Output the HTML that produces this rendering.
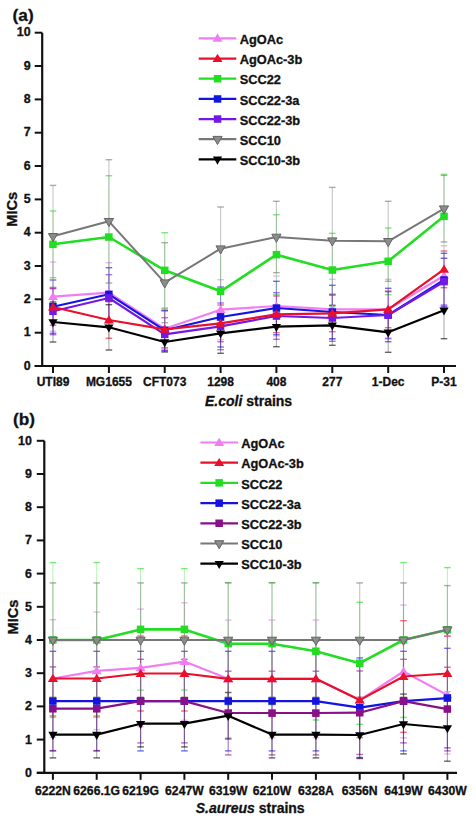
<!DOCTYPE html>
<html><head><meta charset="utf-8"><style>
html,body{margin:0;padding:0;background:#fff;}
body{width:476px;height:822px;overflow:hidden;}
svg{display:block;font-family:"Liberation Sans", sans-serif;}
text{stroke:#111;stroke-width:0.3px;}
</style></head><body>
<svg width="476" height="822" viewBox="0 0 476 822" fill="#111">
<line x1="53.0" y1="262.0" x2="53.0" y2="331.3" stroke="#f07ef2" stroke-opacity="0.32" stroke-width="1.1"/>
<g stroke="#f07ef2" stroke-opacity="0.6" stroke-width="1.4" fill="none"><line x1="49.7" y1="262.0" x2="56.3" y2="262.0"/><line x1="49.7" y1="331.3" x2="56.3" y2="331.3"/></g>
<line x1="108.9" y1="262.7" x2="108.9" y2="322.7" stroke="#f07ef2" stroke-opacity="0.32" stroke-width="1.1"/>
<g stroke="#f07ef2" stroke-opacity="0.6" stroke-width="1.4" fill="none"><line x1="105.6" y1="262.7" x2="112.2" y2="262.7"/><line x1="105.6" y1="322.7" x2="112.2" y2="322.7"/></g>
<line x1="164.7" y1="308.7" x2="164.7" y2="348.7" stroke="#f07ef2" stroke-opacity="0.32" stroke-width="1.1"/>
<g stroke="#f07ef2" stroke-opacity="0.6" stroke-width="1.4" fill="none"><line x1="161.4" y1="308.7" x2="168.0" y2="308.7"/><line x1="161.4" y1="348.7" x2="168.0" y2="348.7"/></g>
<line x1="220.6" y1="279.7" x2="220.6" y2="339.7" stroke="#f07ef2" stroke-opacity="0.32" stroke-width="1.1"/>
<g stroke="#f07ef2" stroke-opacity="0.6" stroke-width="1.4" fill="none"><line x1="217.3" y1="279.7" x2="223.9" y2="279.7"/><line x1="217.3" y1="339.7" x2="223.9" y2="339.7"/></g>
<line x1="276.4" y1="276.0" x2="276.4" y2="336.0" stroke="#f07ef2" stroke-opacity="0.32" stroke-width="1.1"/>
<g stroke="#f07ef2" stroke-opacity="0.6" stroke-width="1.4" fill="none"><line x1="273.1" y1="276.0" x2="279.7" y2="276.0"/><line x1="273.1" y1="336.0" x2="279.7" y2="336.0"/></g>
<line x1="332.3" y1="279.3" x2="332.3" y2="339.3" stroke="#f07ef2" stroke-opacity="0.32" stroke-width="1.1"/>
<g stroke="#f07ef2" stroke-opacity="0.6" stroke-width="1.4" fill="none"><line x1="329.0" y1="279.3" x2="335.6" y2="279.3"/><line x1="329.0" y1="339.3" x2="335.6" y2="339.3"/></g>
<line x1="388.2" y1="279.3" x2="388.2" y2="339.3" stroke="#f07ef2" stroke-opacity="0.32" stroke-width="1.1"/>
<g stroke="#f07ef2" stroke-opacity="0.6" stroke-width="1.4" fill="none"><line x1="384.9" y1="279.3" x2="391.5" y2="279.3"/><line x1="384.9" y1="339.3" x2="391.5" y2="339.3"/></g>
<line x1="444.0" y1="245.7" x2="444.0" y2="305.7" stroke="#f07ef2" stroke-opacity="0.32" stroke-width="1.1"/>
<g stroke="#f07ef2" stroke-opacity="0.6" stroke-width="1.4" fill="none"><line x1="440.7" y1="245.7" x2="447.3" y2="245.7"/><line x1="440.7" y1="305.7" x2="447.3" y2="305.7"/></g>
<line x1="53.0" y1="288.7" x2="53.0" y2="325.3" stroke="#e8102a" stroke-opacity="0.32" stroke-width="1.1"/>
<g stroke="#e8102a" stroke-opacity="0.6" stroke-width="1.4" fill="none"><line x1="49.7" y1="288.7" x2="56.3" y2="288.7"/><line x1="49.7" y1="325.3" x2="56.3" y2="325.3"/></g>
<line x1="108.9" y1="301.7" x2="108.9" y2="338.3" stroke="#e8102a" stroke-opacity="0.32" stroke-width="1.1"/>
<g stroke="#e8102a" stroke-opacity="0.6" stroke-width="1.4" fill="none"><line x1="105.6" y1="301.7" x2="112.2" y2="301.7"/><line x1="105.6" y1="338.3" x2="112.2" y2="338.3"/></g>
<line x1="164.7" y1="311.0" x2="164.7" y2="347.7" stroke="#e8102a" stroke-opacity="0.32" stroke-width="1.1"/>
<g stroke="#e8102a" stroke-opacity="0.6" stroke-width="1.4" fill="none"><line x1="161.4" y1="311.0" x2="168.0" y2="311.0"/><line x1="161.4" y1="347.7" x2="168.0" y2="347.7"/></g>
<line x1="220.6" y1="305.0" x2="220.6" y2="341.7" stroke="#e8102a" stroke-opacity="0.32" stroke-width="1.1"/>
<g stroke="#e8102a" stroke-opacity="0.6" stroke-width="1.4" fill="none"><line x1="217.3" y1="305.0" x2="223.9" y2="305.0"/><line x1="217.3" y1="341.7" x2="223.9" y2="341.7"/></g>
<line x1="276.4" y1="296.0" x2="276.4" y2="332.7" stroke="#e8102a" stroke-opacity="0.32" stroke-width="1.1"/>
<g stroke="#e8102a" stroke-opacity="0.6" stroke-width="1.4" fill="none"><line x1="273.1" y1="296.0" x2="279.7" y2="296.0"/><line x1="273.1" y1="332.7" x2="279.7" y2="332.7"/></g>
<line x1="332.3" y1="295.0" x2="332.3" y2="331.7" stroke="#e8102a" stroke-opacity="0.32" stroke-width="1.1"/>
<g stroke="#e8102a" stroke-opacity="0.6" stroke-width="1.4" fill="none"><line x1="329.0" y1="295.0" x2="335.6" y2="295.0"/><line x1="329.0" y1="331.7" x2="335.6" y2="331.7"/></g>
<line x1="388.2" y1="291.0" x2="388.2" y2="327.7" stroke="#e8102a" stroke-opacity="0.32" stroke-width="1.1"/>
<g stroke="#e8102a" stroke-opacity="0.6" stroke-width="1.4" fill="none"><line x1="384.9" y1="291.0" x2="391.5" y2="291.0"/><line x1="384.9" y1="327.7" x2="391.5" y2="327.7"/></g>
<line x1="444.0" y1="251.0" x2="444.0" y2="287.7" stroke="#e8102a" stroke-opacity="0.32" stroke-width="1.1"/>
<g stroke="#e8102a" stroke-opacity="0.6" stroke-width="1.4" fill="none"><line x1="440.7" y1="251.0" x2="447.3" y2="251.0"/><line x1="440.7" y1="287.7" x2="447.3" y2="287.7"/></g>
<line x1="53.0" y1="211.0" x2="53.0" y2="277.7" stroke="#22dd22" stroke-opacity="0.32" stroke-width="1.1"/>
<g stroke="#22dd22" stroke-opacity="0.6" stroke-width="1.4" fill="none"><line x1="49.7" y1="211.0" x2="56.3" y2="211.0"/><line x1="49.7" y1="277.7" x2="56.3" y2="277.7"/></g>
<line x1="108.9" y1="175.7" x2="108.9" y2="298.3" stroke="#22dd22" stroke-opacity="0.32" stroke-width="1.1"/>
<g stroke="#22dd22" stroke-opacity="0.6" stroke-width="1.4" fill="none"><line x1="105.6" y1="175.7" x2="112.2" y2="175.7"/><line x1="105.6" y1="298.3" x2="112.2" y2="298.3"/></g>
<line x1="164.7" y1="232.7" x2="164.7" y2="308.0" stroke="#22dd22" stroke-opacity="0.32" stroke-width="1.1"/>
<g stroke="#22dd22" stroke-opacity="0.6" stroke-width="1.4" fill="none"><line x1="161.4" y1="232.7" x2="168.0" y2="232.7"/><line x1="161.4" y1="308.0" x2="168.0" y2="308.0"/></g>
<line x1="220.6" y1="249.0" x2="220.6" y2="333.7" stroke="#22dd22" stroke-opacity="0.32" stroke-width="1.1"/>
<g stroke="#22dd22" stroke-opacity="0.6" stroke-width="1.4" fill="none"><line x1="217.3" y1="249.0" x2="223.9" y2="249.0"/><line x1="217.3" y1="333.7" x2="223.9" y2="333.7"/></g>
<line x1="276.4" y1="214.7" x2="276.4" y2="294.7" stroke="#22dd22" stroke-opacity="0.32" stroke-width="1.1"/>
<g stroke="#22dd22" stroke-opacity="0.6" stroke-width="1.4" fill="none"><line x1="273.1" y1="214.7" x2="279.7" y2="214.7"/><line x1="273.1" y1="294.7" x2="279.7" y2="294.7"/></g>
<line x1="332.3" y1="233.3" x2="332.3" y2="306.7" stroke="#22dd22" stroke-opacity="0.32" stroke-width="1.1"/>
<g stroke="#22dd22" stroke-opacity="0.6" stroke-width="1.4" fill="none"><line x1="329.0" y1="233.3" x2="335.6" y2="233.3"/><line x1="329.0" y1="306.7" x2="335.6" y2="306.7"/></g>
<line x1="388.2" y1="228.0" x2="388.2" y2="294.7" stroke="#22dd22" stroke-opacity="0.32" stroke-width="1.1"/>
<g stroke="#22dd22" stroke-opacity="0.6" stroke-width="1.4" fill="none"><line x1="384.9" y1="228.0" x2="391.5" y2="228.0"/><line x1="384.9" y1="294.7" x2="391.5" y2="294.7"/></g>
<line x1="444.0" y1="174.4" x2="444.0" y2="258.3" stroke="#22dd22" stroke-opacity="0.32" stroke-width="1.1"/>
<g stroke="#22dd22" stroke-opacity="0.6" stroke-width="1.4" fill="none"><line x1="440.7" y1="174.4" x2="447.3" y2="174.4"/><line x1="440.7" y1="258.3" x2="447.3" y2="258.3"/></g>
<line x1="53.0" y1="280.0" x2="53.0" y2="333.3" stroke="#1414e0" stroke-opacity="0.32" stroke-width="1.1"/>
<g stroke="#1414e0" stroke-opacity="0.6" stroke-width="1.4" fill="none"><line x1="49.7" y1="280.0" x2="56.3" y2="280.0"/><line x1="49.7" y1="333.3" x2="56.3" y2="333.3"/></g>
<line x1="108.9" y1="267.7" x2="108.9" y2="321.0" stroke="#1414e0" stroke-opacity="0.32" stroke-width="1.1"/>
<g stroke="#1414e0" stroke-opacity="0.6" stroke-width="1.4" fill="none"><line x1="105.6" y1="267.7" x2="112.2" y2="267.7"/><line x1="105.6" y1="321.0" x2="112.2" y2="321.0"/></g>
<line x1="164.7" y1="310.3" x2="164.7" y2="350.3" stroke="#1414e0" stroke-opacity="0.32" stroke-width="1.1"/>
<g stroke="#1414e0" stroke-opacity="0.6" stroke-width="1.4" fill="none"><line x1="161.4" y1="310.3" x2="168.0" y2="310.3"/><line x1="161.4" y1="350.3" x2="168.0" y2="350.3"/></g>
<line x1="220.6" y1="287.0" x2="220.6" y2="347.0" stroke="#1414e0" stroke-opacity="0.32" stroke-width="1.1"/>
<g stroke="#1414e0" stroke-opacity="0.6" stroke-width="1.4" fill="none"><line x1="217.3" y1="287.0" x2="223.9" y2="287.0"/><line x1="217.3" y1="347.0" x2="223.9" y2="347.0"/></g>
<line x1="276.4" y1="281.3" x2="276.4" y2="334.7" stroke="#1414e0" stroke-opacity="0.32" stroke-width="1.1"/>
<g stroke="#1414e0" stroke-opacity="0.6" stroke-width="1.4" fill="none"><line x1="273.1" y1="281.3" x2="279.7" y2="281.3"/><line x1="273.1" y1="334.7" x2="279.7" y2="334.7"/></g>
<line x1="332.3" y1="285.3" x2="332.3" y2="338.7" stroke="#1414e0" stroke-opacity="0.32" stroke-width="1.1"/>
<g stroke="#1414e0" stroke-opacity="0.6" stroke-width="1.4" fill="none"><line x1="329.0" y1="285.3" x2="335.6" y2="285.3"/><line x1="329.0" y1="338.7" x2="335.6" y2="338.7"/></g>
<line x1="388.2" y1="288.3" x2="388.2" y2="341.7" stroke="#1414e0" stroke-opacity="0.32" stroke-width="1.1"/>
<g stroke="#1414e0" stroke-opacity="0.6" stroke-width="1.4" fill="none"><line x1="384.9" y1="288.3" x2="391.5" y2="288.3"/><line x1="384.9" y1="341.7" x2="391.5" y2="341.7"/></g>
<line x1="444.0" y1="253.3" x2="444.0" y2="306.7" stroke="#1414e0" stroke-opacity="0.32" stroke-width="1.1"/>
<g stroke="#1414e0" stroke-opacity="0.6" stroke-width="1.4" fill="none"><line x1="440.7" y1="253.3" x2="447.3" y2="253.3"/><line x1="440.7" y1="306.7" x2="447.3" y2="306.7"/></g>
<line x1="53.0" y1="288.0" x2="53.0" y2="334.7" stroke="#7418e8" stroke-opacity="0.32" stroke-width="1.1"/>
<g stroke="#7418e8" stroke-opacity="0.6" stroke-width="1.4" fill="none"><line x1="49.7" y1="288.0" x2="56.3" y2="288.0"/><line x1="49.7" y1="334.7" x2="56.3" y2="334.7"/></g>
<line x1="108.9" y1="274.7" x2="108.9" y2="321.3" stroke="#7418e8" stroke-opacity="0.32" stroke-width="1.1"/>
<g stroke="#7418e8" stroke-opacity="0.6" stroke-width="1.4" fill="none"><line x1="105.6" y1="274.7" x2="112.2" y2="274.7"/><line x1="105.6" y1="321.3" x2="112.2" y2="321.3"/></g>
<line x1="164.7" y1="317.7" x2="164.7" y2="351.0" stroke="#7418e8" stroke-opacity="0.32" stroke-width="1.1"/>
<g stroke="#7418e8" stroke-opacity="0.6" stroke-width="1.4" fill="none"><line x1="161.4" y1="317.7" x2="168.0" y2="317.7"/><line x1="161.4" y1="351.0" x2="168.0" y2="351.0"/></g>
<line x1="220.6" y1="303.0" x2="220.6" y2="349.7" stroke="#7418e8" stroke-opacity="0.32" stroke-width="1.1"/>
<g stroke="#7418e8" stroke-opacity="0.6" stroke-width="1.4" fill="none"><line x1="217.3" y1="303.0" x2="223.9" y2="303.0"/><line x1="217.3" y1="349.7" x2="223.9" y2="349.7"/></g>
<line x1="276.4" y1="292.7" x2="276.4" y2="339.3" stroke="#7418e8" stroke-opacity="0.32" stroke-width="1.1"/>
<g stroke="#7418e8" stroke-opacity="0.6" stroke-width="1.4" fill="none"><line x1="273.1" y1="292.7" x2="279.7" y2="292.7"/><line x1="273.1" y1="339.3" x2="279.7" y2="339.3"/></g>
<line x1="332.3" y1="294.7" x2="332.3" y2="341.3" stroke="#7418e8" stroke-opacity="0.32" stroke-width="1.1"/>
<g stroke="#7418e8" stroke-opacity="0.6" stroke-width="1.4" fill="none"><line x1="329.0" y1="294.7" x2="335.6" y2="294.7"/><line x1="329.0" y1="341.3" x2="335.6" y2="341.3"/></g>
<line x1="388.2" y1="291.7" x2="388.2" y2="338.3" stroke="#7418e8" stroke-opacity="0.32" stroke-width="1.1"/>
<g stroke="#7418e8" stroke-opacity="0.6" stroke-width="1.4" fill="none"><line x1="384.9" y1="291.7" x2="391.5" y2="291.7"/><line x1="384.9" y1="338.3" x2="391.5" y2="338.3"/></g>
<line x1="444.0" y1="258.3" x2="444.0" y2="305.0" stroke="#7418e8" stroke-opacity="0.32" stroke-width="1.1"/>
<g stroke="#7418e8" stroke-opacity="0.6" stroke-width="1.4" fill="none"><line x1="440.7" y1="258.3" x2="447.3" y2="258.3"/><line x1="440.7" y1="305.0" x2="447.3" y2="305.0"/></g>
<line x1="53.0" y1="302.0" x2="53.0" y2="342.0" stroke="#000000" stroke-opacity="0.32" stroke-width="1.1"/>
<g stroke="#000000" stroke-opacity="0.6" stroke-width="1.4" fill="none"><line x1="49.7" y1="302.0" x2="56.3" y2="302.0"/><line x1="49.7" y1="342.0" x2="56.3" y2="342.0"/></g>
<line x1="108.9" y1="304.7" x2="108.9" y2="350.0" stroke="#000000" stroke-opacity="0.32" stroke-width="1.1"/>
<g stroke="#000000" stroke-opacity="0.6" stroke-width="1.4" fill="none"><line x1="105.6" y1="304.7" x2="112.2" y2="304.7"/><line x1="105.6" y1="350.0" x2="112.2" y2="350.0"/></g>
<line x1="164.7" y1="332.0" x2="164.7" y2="352.0" stroke="#000000" stroke-opacity="0.32" stroke-width="1.1"/>
<g stroke="#000000" stroke-opacity="0.6" stroke-width="1.4" fill="none"><line x1="161.4" y1="332.0" x2="168.0" y2="332.0"/><line x1="161.4" y1="352.0" x2="168.0" y2="352.0"/></g>
<line x1="220.6" y1="313.3" x2="220.6" y2="353.3" stroke="#000000" stroke-opacity="0.32" stroke-width="1.1"/>
<g stroke="#000000" stroke-opacity="0.6" stroke-width="1.4" fill="none"><line x1="217.3" y1="313.3" x2="223.9" y2="313.3"/><line x1="217.3" y1="353.3" x2="223.9" y2="353.3"/></g>
<line x1="276.4" y1="306.7" x2="276.4" y2="346.7" stroke="#000000" stroke-opacity="0.32" stroke-width="1.1"/>
<g stroke="#000000" stroke-opacity="0.6" stroke-width="1.4" fill="none"><line x1="273.1" y1="306.7" x2="279.7" y2="306.7"/><line x1="273.1" y1="346.7" x2="279.7" y2="346.7"/></g>
<line x1="332.3" y1="305.3" x2="332.3" y2="345.3" stroke="#000000" stroke-opacity="0.32" stroke-width="1.1"/>
<g stroke="#000000" stroke-opacity="0.6" stroke-width="1.4" fill="none"><line x1="329.0" y1="305.3" x2="335.6" y2="305.3"/><line x1="329.0" y1="345.3" x2="335.6" y2="345.3"/></g>
<line x1="388.2" y1="312.3" x2="388.2" y2="352.3" stroke="#000000" stroke-opacity="0.32" stroke-width="1.1"/>
<g stroke="#000000" stroke-opacity="0.6" stroke-width="1.4" fill="none"><line x1="384.9" y1="312.3" x2="391.5" y2="312.3"/><line x1="384.9" y1="352.3" x2="391.5" y2="352.3"/></g>
<line x1="444.0" y1="282.0" x2="444.0" y2="338.7" stroke="#000000" stroke-opacity="0.32" stroke-width="1.1"/>
<g stroke="#000000" stroke-opacity="0.6" stroke-width="1.4" fill="none"><line x1="440.7" y1="282.0" x2="447.3" y2="282.0"/><line x1="440.7" y1="338.7" x2="447.3" y2="338.7"/></g>
<line x1="53.0" y1="185.4" x2="53.0" y2="287.3" stroke="#777777" stroke-opacity="0.42" stroke-width="1.1"/>
<g stroke="#777777" stroke-opacity="0.6" stroke-width="1.4" fill="none"><line x1="49.7" y1="185.4" x2="56.3" y2="185.4"/><line x1="49.7" y1="287.3" x2="56.3" y2="287.3"/></g>
<line x1="108.9" y1="159.7" x2="108.9" y2="283.0" stroke="#777777" stroke-opacity="0.42" stroke-width="1.1"/>
<g stroke="#777777" stroke-opacity="0.6" stroke-width="1.4" fill="none"><line x1="105.6" y1="159.7" x2="112.2" y2="159.7"/><line x1="105.6" y1="283.0" x2="112.2" y2="283.0"/></g>
<line x1="164.7" y1="242.7" x2="164.7" y2="322.7" stroke="#777777" stroke-opacity="0.42" stroke-width="1.1"/>
<g stroke="#777777" stroke-opacity="0.6" stroke-width="1.4" fill="none"><line x1="161.4" y1="242.7" x2="168.0" y2="242.7"/><line x1="161.4" y1="322.7" x2="168.0" y2="322.7"/></g>
<line x1="220.6" y1="207.0" x2="220.6" y2="290.3" stroke="#777777" stroke-opacity="0.42" stroke-width="1.1"/>
<g stroke="#777777" stroke-opacity="0.6" stroke-width="1.4" fill="none"><line x1="217.3" y1="207.0" x2="223.9" y2="207.0"/><line x1="217.3" y1="290.3" x2="223.9" y2="290.3"/></g>
<line x1="276.4" y1="201.3" x2="276.4" y2="272.7" stroke="#777777" stroke-opacity="0.42" stroke-width="1.1"/>
<g stroke="#777777" stroke-opacity="0.6" stroke-width="1.4" fill="none"><line x1="273.1" y1="201.3" x2="279.7" y2="201.3"/><line x1="273.1" y1="272.7" x2="279.7" y2="272.7"/></g>
<line x1="332.3" y1="187.4" x2="332.3" y2="294.0" stroke="#777777" stroke-opacity="0.42" stroke-width="1.1"/>
<g stroke="#777777" stroke-opacity="0.6" stroke-width="1.4" fill="none"><line x1="329.0" y1="187.4" x2="335.6" y2="187.4"/><line x1="329.0" y1="294.0" x2="335.6" y2="294.0"/></g>
<line x1="388.2" y1="201.3" x2="388.2" y2="281.3" stroke="#777777" stroke-opacity="0.42" stroke-width="1.1"/>
<g stroke="#777777" stroke-opacity="0.6" stroke-width="1.4" fill="none"><line x1="384.9" y1="201.3" x2="391.5" y2="201.3"/><line x1="384.9" y1="281.3" x2="391.5" y2="281.3"/></g>
<line x1="444.0" y1="175.4" x2="444.0" y2="242.0" stroke="#777777" stroke-opacity="0.42" stroke-width="1.1"/>
<g stroke="#777777" stroke-opacity="0.6" stroke-width="1.4" fill="none"><line x1="440.7" y1="175.4" x2="447.3" y2="175.4"/><line x1="440.7" y1="242.0" x2="447.3" y2="242.0"/></g>
<polyline points="53.0,296.7 108.9,292.7 164.7,328.7 220.6,309.7 276.4,306.0 332.3,309.3 388.2,309.3 444.0,275.7" fill="none" stroke="#f07ef2" stroke-width="2.2" stroke-linejoin="round"/>
<polygon points="53.0,291.9 48.0,300.1 58.0,300.1" fill="#f07ef2"/>
<polygon points="108.9,287.9 103.9,296.1 113.9,296.1" fill="#f07ef2"/>
<polygon points="164.7,323.9 159.7,332.1 169.7,332.1" fill="#f07ef2"/>
<polygon points="220.6,304.9 215.6,313.1 225.6,313.1" fill="#f07ef2"/>
<polygon points="276.4,301.2 271.4,309.4 281.4,309.4" fill="#f07ef2"/>
<polygon points="332.3,304.6 327.3,312.8 337.3,312.8" fill="#f07ef2"/>
<polygon points="388.2,304.6 383.2,312.8 393.2,312.8" fill="#f07ef2"/>
<polygon points="444.0,270.9 439.0,279.1 449.0,279.1" fill="#f07ef2"/>
<polyline points="53.0,244.3 108.9,237.0 164.7,270.3 220.6,291.3 276.4,254.7 332.3,270.0 388.2,261.3 444.0,216.3" fill="none" stroke="#22dd22" stroke-width="2.6" stroke-linejoin="round"/>
<rect x="49.2" y="240.6" width="7.5" height="7.5" fill="#22dd22"/>
<rect x="105.1" y="233.3" width="7.5" height="7.5" fill="#22dd22"/>
<rect x="161.0" y="266.6" width="7.5" height="7.5" fill="#22dd22"/>
<rect x="216.8" y="287.6" width="7.5" height="7.5" fill="#22dd22"/>
<rect x="272.7" y="250.9" width="7.5" height="7.5" fill="#22dd22"/>
<rect x="328.6" y="266.3" width="7.5" height="7.5" fill="#22dd22"/>
<rect x="384.4" y="257.6" width="7.5" height="7.5" fill="#22dd22"/>
<rect x="440.3" y="212.6" width="7.5" height="7.5" fill="#22dd22"/>
<polyline points="53.0,306.7 108.9,294.3 164.7,330.3 220.6,317.0 276.4,308.0 332.3,312.0 388.2,315.0 444.0,280.0" fill="none" stroke="#1414e0" stroke-width="2.2" stroke-linejoin="round"/>
<rect x="49.2" y="302.9" width="7.5" height="7.5" fill="#1414e0"/>
<rect x="105.1" y="290.6" width="7.5" height="7.5" fill="#1414e0"/>
<rect x="161.0" y="326.6" width="7.5" height="7.5" fill="#1414e0"/>
<rect x="216.8" y="313.3" width="7.5" height="7.5" fill="#1414e0"/>
<rect x="272.7" y="304.3" width="7.5" height="7.5" fill="#1414e0"/>
<rect x="328.6" y="308.3" width="7.5" height="7.5" fill="#1414e0"/>
<rect x="384.4" y="311.3" width="7.5" height="7.5" fill="#1414e0"/>
<rect x="440.3" y="276.3" width="7.5" height="7.5" fill="#1414e0"/>
<polyline points="53.0,311.3 108.9,298.0 164.7,334.3 220.6,326.3 276.4,316.0 332.3,318.0 388.2,315.0 444.0,281.7" fill="none" stroke="#7418e8" stroke-width="2.2" stroke-linejoin="round"/>
<rect x="49.2" y="307.6" width="7.5" height="7.5" fill="#7418e8"/>
<rect x="105.1" y="294.3" width="7.5" height="7.5" fill="#7418e8"/>
<rect x="161.0" y="330.6" width="7.5" height="7.5" fill="#7418e8"/>
<rect x="216.8" y="322.6" width="7.5" height="7.5" fill="#7418e8"/>
<rect x="272.7" y="312.3" width="7.5" height="7.5" fill="#7418e8"/>
<rect x="328.6" y="314.3" width="7.5" height="7.5" fill="#7418e8"/>
<rect x="384.4" y="311.3" width="7.5" height="7.5" fill="#7418e8"/>
<rect x="440.3" y="277.9" width="7.5" height="7.5" fill="#7418e8"/>
<polyline points="53.0,307.0 108.9,320.0 164.7,329.3 220.6,323.3 276.4,314.3 332.3,313.3 388.2,309.3 444.0,269.3" fill="none" stroke="#e8102a" stroke-width="2.2" stroke-linejoin="round"/>
<polygon points="53.0,302.2 48.0,310.4 58.0,310.4" fill="#e8102a"/>
<polygon points="108.9,315.2 103.9,323.4 113.9,323.4" fill="#e8102a"/>
<polygon points="164.7,324.6 159.7,332.8 169.7,332.8" fill="#e8102a"/>
<polygon points="220.6,318.6 215.6,326.8 225.6,326.8" fill="#e8102a"/>
<polygon points="276.4,309.6 271.4,317.8 281.4,317.8" fill="#e8102a"/>
<polygon points="332.3,308.6 327.3,316.8 337.3,316.8" fill="#e8102a"/>
<polygon points="388.2,304.6 383.2,312.8 393.2,312.8" fill="#e8102a"/>
<polygon points="444.0,264.6 439.0,272.8 449.0,272.8" fill="#e8102a"/>
<polyline points="53.0,236.3 108.9,221.3 164.7,282.7 220.6,248.7 276.4,237.0 332.3,240.7 388.2,241.3 444.0,208.7" fill="none" stroke="#777777" stroke-width="2.0" stroke-linejoin="round"/>
<polygon points="53.0,241.6 48.4,233.5 57.6,233.5" fill="#8c8c8c" stroke="#646464" stroke-width="1"/>
<polygon points="108.9,226.6 104.3,218.5 113.5,218.5" fill="#8c8c8c" stroke="#646464" stroke-width="1"/>
<polygon points="164.7,288.0 160.1,279.9 169.3,279.9" fill="#8c8c8c" stroke="#646464" stroke-width="1"/>
<polygon points="220.6,254.0 216.0,245.9 225.2,245.9" fill="#8c8c8c" stroke="#646464" stroke-width="1"/>
<polygon points="276.4,242.3 271.8,234.2 281.0,234.2" fill="#8c8c8c" stroke="#646464" stroke-width="1"/>
<polygon points="332.3,246.0 327.7,237.9 336.9,237.9" fill="#8c8c8c" stroke="#646464" stroke-width="1"/>
<polygon points="388.2,246.6 383.6,238.5 392.8,238.5" fill="#8c8c8c" stroke="#646464" stroke-width="1"/>
<polygon points="444.0,214.0 439.4,205.9 448.6,205.9" fill="#8c8c8c" stroke="#646464" stroke-width="1"/>
<polyline points="53.0,322.0 108.9,327.3 164.7,342.0 220.6,333.3 276.4,326.7 332.3,325.3 388.2,332.3 444.0,310.3" fill="none" stroke="#000000" stroke-width="2.2" stroke-linejoin="round"/>
<polygon points="53.0,327.3 48.4,319.2 57.6,319.2" fill="#000000"/>
<polygon points="108.9,332.6 104.3,324.5 113.5,324.5" fill="#000000"/>
<polygon points="164.7,347.3 160.1,339.2 169.3,339.2" fill="#000000"/>
<polygon points="220.6,338.6 216.0,330.5 225.2,330.5" fill="#000000"/>
<polygon points="276.4,332.0 271.8,323.9 281.0,323.9" fill="#000000"/>
<polygon points="332.3,330.6 327.7,322.5 336.9,322.5" fill="#000000"/>
<polygon points="388.2,337.6 383.6,329.5 392.8,329.5" fill="#000000"/>
<polygon points="444.0,315.6 439.4,307.5 448.6,307.5" fill="#000000"/>
<line x1="42.2" y1="32.7" x2="42.2" y2="367.0" stroke="#111" stroke-width="2.2"/>
<line x1="34.7" y1="366.0" x2="456.0" y2="366.0" stroke="#111" stroke-width="2.2"/>
<line x1="34.7" y1="366.0" x2="42.2" y2="366.0" stroke="#111" stroke-width="2"/>
<text x="30.6" y="369.7" text-anchor="end" font-size="12.4" font-weight="bold">0</text>
<line x1="34.7" y1="332.7" x2="42.2" y2="332.7" stroke="#111" stroke-width="2"/>
<text x="30.6" y="336.4" text-anchor="end" font-size="12.4" font-weight="bold">1</text>
<line x1="34.7" y1="299.3" x2="42.2" y2="299.3" stroke="#111" stroke-width="2"/>
<text x="30.6" y="303.0" text-anchor="end" font-size="12.4" font-weight="bold">2</text>
<line x1="34.7" y1="266.0" x2="42.2" y2="266.0" stroke="#111" stroke-width="2"/>
<text x="30.6" y="269.7" text-anchor="end" font-size="12.4" font-weight="bold">3</text>
<line x1="34.7" y1="232.7" x2="42.2" y2="232.7" stroke="#111" stroke-width="2"/>
<text x="30.6" y="236.4" text-anchor="end" font-size="12.4" font-weight="bold">4</text>
<line x1="34.7" y1="199.4" x2="42.2" y2="199.4" stroke="#111" stroke-width="2"/>
<text x="30.6" y="203.1" text-anchor="end" font-size="12.4" font-weight="bold">5</text>
<line x1="34.7" y1="166.0" x2="42.2" y2="166.0" stroke="#111" stroke-width="2"/>
<text x="30.6" y="169.7" text-anchor="end" font-size="12.4" font-weight="bold">6</text>
<line x1="34.7" y1="132.7" x2="42.2" y2="132.7" stroke="#111" stroke-width="2"/>
<text x="30.6" y="136.4" text-anchor="end" font-size="12.4" font-weight="bold">7</text>
<line x1="34.7" y1="99.4" x2="42.2" y2="99.4" stroke="#111" stroke-width="2"/>
<text x="30.6" y="103.1" text-anchor="end" font-size="12.4" font-weight="bold">8</text>
<line x1="34.7" y1="66.0" x2="42.2" y2="66.0" stroke="#111" stroke-width="2"/>
<text x="30.6" y="69.7" text-anchor="end" font-size="12.4" font-weight="bold">9</text>
<line x1="34.7" y1="32.7" x2="42.2" y2="32.7" stroke="#111" stroke-width="2"/>
<text x="30.6" y="36.4" text-anchor="end" font-size="12.4" font-weight="bold">10</text>
<line x1="53.0" y1="366.0" x2="53.0" y2="373.0" stroke="#111" stroke-width="2"/>
<text x="53.0" y="386.4" text-anchor="middle" font-size="12.0" font-weight="bold">UTI89</text>
<line x1="108.9" y1="366.0" x2="108.9" y2="373.0" stroke="#111" stroke-width="2"/>
<text x="108.9" y="386.4" text-anchor="middle" font-size="12.0" font-weight="bold">MG1655</text>
<line x1="164.7" y1="366.0" x2="164.7" y2="373.0" stroke="#111" stroke-width="2"/>
<text x="164.7" y="386.4" text-anchor="middle" font-size="12.0" font-weight="bold">CFT073</text>
<line x1="220.6" y1="366.0" x2="220.6" y2="373.0" stroke="#111" stroke-width="2"/>
<text x="220.6" y="386.4" text-anchor="middle" font-size="12.0" font-weight="bold">1298</text>
<line x1="276.4" y1="366.0" x2="276.4" y2="373.0" stroke="#111" stroke-width="2"/>
<text x="276.4" y="386.4" text-anchor="middle" font-size="12.0" font-weight="bold">408</text>
<line x1="332.3" y1="366.0" x2="332.3" y2="373.0" stroke="#111" stroke-width="2"/>
<text x="332.3" y="386.4" text-anchor="middle" font-size="12.0" font-weight="bold">277</text>
<line x1="388.2" y1="366.0" x2="388.2" y2="373.0" stroke="#111" stroke-width="2"/>
<text x="388.2" y="386.4" text-anchor="middle" font-size="12.0" font-weight="bold">1-Dec</text>
<line x1="444.0" y1="366.0" x2="444.0" y2="373.0" stroke="#111" stroke-width="2"/>
<text x="444.0" y="386.4" text-anchor="middle" font-size="12.0" font-weight="bold">P-31</text>
<text x="248.6" y="405.7" text-anchor="middle" font-size="14" font-weight="bold"><tspan font-style="italic">E.coli</tspan> strains</text>
<text transform="translate(17.2,209.3) rotate(-90)" text-anchor="middle" font-size="14.6" font-weight="bold">MICs</text>
<text x="12.6" y="20.6" font-size="17.2" font-weight="bold">(a)</text>
<line x1="198.7" y1="38.4" x2="236.3" y2="38.4" stroke="#f07ef2" stroke-width="2.2"/>
<polygon points="217.5,33.6 212.5,41.8 222.5,41.8" fill="#f07ef2"/>
<text x="239.7" y="44.1" font-size="12.8" font-weight="bold">AgOAc</text>
<line x1="198.7" y1="58.6" x2="236.3" y2="58.6" stroke="#e8102a" stroke-width="2.2"/>
<polygon points="217.5,53.8 212.5,62.0 222.5,62.0" fill="#e8102a"/>
<text x="239.7" y="64.3" font-size="12.8" font-weight="bold">AgOAc-3b</text>
<line x1="198.7" y1="78.7" x2="236.3" y2="78.7" stroke="#22dd22" stroke-width="2.2"/>
<rect x="213.8" y="75.0" width="7.5" height="7.5" fill="#22dd22"/>
<text x="239.7" y="84.4" font-size="12.8" font-weight="bold">SCC22</text>
<line x1="198.7" y1="98.9" x2="236.3" y2="98.9" stroke="#1414e0" stroke-width="2.2"/>
<rect x="213.8" y="95.2" width="7.5" height="7.5" fill="#1414e0"/>
<text x="239.7" y="104.6" font-size="12.8" font-weight="bold">SCC22-3a</text>
<line x1="198.7" y1="119.1" x2="236.3" y2="119.1" stroke="#7418e8" stroke-width="2.2"/>
<rect x="213.8" y="115.3" width="7.5" height="7.5" fill="#7418e8"/>
<text x="239.7" y="124.8" font-size="12.8" font-weight="bold">SCC22-3b</text>
<line x1="198.7" y1="139.2" x2="236.3" y2="139.2" stroke="#777777" stroke-width="2.2"/>
<polygon points="217.5,144.6 212.9,136.4 222.1,136.4" fill="#8c8c8c" stroke="#646464" stroke-width="1"/>
<text x="239.7" y="144.9" font-size="12.8" font-weight="bold">SCC10</text>
<line x1="198.7" y1="159.4" x2="236.3" y2="159.4" stroke="#000000" stroke-width="2.2"/>
<polygon points="217.5,164.7 212.9,156.6 222.1,156.6" fill="#000000"/>
<text x="239.7" y="165.1" font-size="12.8" font-weight="bold">SCC10-3b</text>
<line x1="52.9" y1="619.7" x2="52.9" y2="737.3" stroke="#f07ef2" stroke-opacity="0.32" stroke-width="1.1"/>
<g stroke="#f07ef2" stroke-opacity="0.6" stroke-width="1.4" fill="none"><line x1="49.6" y1="619.7" x2="56.2" y2="619.7"/><line x1="49.6" y1="737.3" x2="56.2" y2="737.3"/></g>
<line x1="96.7" y1="612.1" x2="96.7" y2="729.6" stroke="#f07ef2" stroke-opacity="0.32" stroke-width="1.1"/>
<g stroke="#f07ef2" stroke-opacity="0.6" stroke-width="1.4" fill="none"><line x1="93.4" y1="612.1" x2="100.0" y2="612.1"/><line x1="93.4" y1="729.6" x2="100.0" y2="729.6"/></g>
<line x1="140.6" y1="609.1" x2="140.6" y2="726.7" stroke="#f07ef2" stroke-opacity="0.32" stroke-width="1.1"/>
<g stroke="#f07ef2" stroke-opacity="0.6" stroke-width="1.4" fill="none"><line x1="137.3" y1="609.1" x2="143.9" y2="609.1"/><line x1="137.3" y1="726.7" x2="143.9" y2="726.7"/></g>
<line x1="184.4" y1="602.8" x2="184.4" y2="720.3" stroke="#f07ef2" stroke-opacity="0.32" stroke-width="1.1"/>
<g stroke="#f07ef2" stroke-opacity="0.6" stroke-width="1.4" fill="none"><line x1="181.1" y1="602.8" x2="187.7" y2="602.8"/><line x1="181.1" y1="720.3" x2="187.7" y2="720.3"/></g>
<line x1="228.2" y1="620.1" x2="228.2" y2="737.6" stroke="#f07ef2" stroke-opacity="0.32" stroke-width="1.1"/>
<g stroke="#f07ef2" stroke-opacity="0.6" stroke-width="1.4" fill="none"><line x1="224.9" y1="620.1" x2="231.5" y2="620.1"/><line x1="224.9" y1="737.6" x2="231.5" y2="737.6"/></g>
<line x1="272.0" y1="620.1" x2="272.0" y2="737.6" stroke="#f07ef2" stroke-opacity="0.32" stroke-width="1.1"/>
<g stroke="#f07ef2" stroke-opacity="0.6" stroke-width="1.4" fill="none"><line x1="268.7" y1="620.1" x2="275.3" y2="620.1"/><line x1="268.7" y1="737.6" x2="275.3" y2="737.6"/></g>
<line x1="315.9" y1="620.1" x2="315.9" y2="737.6" stroke="#f07ef2" stroke-opacity="0.32" stroke-width="1.1"/>
<g stroke="#f07ef2" stroke-opacity="0.6" stroke-width="1.4" fill="none"><line x1="312.6" y1="620.1" x2="319.2" y2="620.1"/><line x1="312.6" y1="737.6" x2="319.2" y2="737.6"/></g>
<line x1="359.7" y1="641.3" x2="359.7" y2="758.9" stroke="#f07ef2" stroke-opacity="0.32" stroke-width="1.1"/>
<g stroke="#f07ef2" stroke-opacity="0.6" stroke-width="1.4" fill="none"><line x1="356.4" y1="641.3" x2="363.0" y2="641.3"/><line x1="356.4" y1="758.9" x2="363.0" y2="758.9"/></g>
<line x1="403.5" y1="605.1" x2="403.5" y2="737.9" stroke="#f07ef2" stroke-opacity="0.32" stroke-width="1.1"/>
<g stroke="#f07ef2" stroke-opacity="0.6" stroke-width="1.4" fill="none"><line x1="400.2" y1="605.1" x2="406.8" y2="605.1"/><line x1="400.2" y1="737.9" x2="406.8" y2="737.9"/></g>
<line x1="447.4" y1="636.3" x2="447.4" y2="753.9" stroke="#f07ef2" stroke-opacity="0.32" stroke-width="1.1"/>
<g stroke="#f07ef2" stroke-opacity="0.6" stroke-width="1.4" fill="none"><line x1="444.1" y1="636.3" x2="450.7" y2="636.3"/><line x1="444.1" y1="753.9" x2="450.7" y2="753.9"/></g>
<line x1="52.9" y1="641.0" x2="52.9" y2="716.0" stroke="#e8102a" stroke-opacity="0.32" stroke-width="1.1"/>
<g stroke="#e8102a" stroke-opacity="0.6" stroke-width="1.4" fill="none"><line x1="49.6" y1="641.0" x2="56.2" y2="641.0"/><line x1="49.6" y1="716.0" x2="56.2" y2="716.0"/></g>
<line x1="96.7" y1="641.0" x2="96.7" y2="716.0" stroke="#e8102a" stroke-opacity="0.32" stroke-width="1.1"/>
<g stroke="#e8102a" stroke-opacity="0.6" stroke-width="1.4" fill="none"><line x1="93.4" y1="641.0" x2="100.0" y2="641.0"/><line x1="93.4" y1="716.0" x2="100.0" y2="716.0"/></g>
<line x1="140.6" y1="636.0" x2="140.6" y2="711.0" stroke="#e8102a" stroke-opacity="0.32" stroke-width="1.1"/>
<g stroke="#e8102a" stroke-opacity="0.6" stroke-width="1.4" fill="none"><line x1="137.3" y1="636.0" x2="143.9" y2="636.0"/><line x1="137.3" y1="711.0" x2="143.9" y2="711.0"/></g>
<line x1="184.4" y1="636.0" x2="184.4" y2="711.0" stroke="#e8102a" stroke-opacity="0.32" stroke-width="1.1"/>
<g stroke="#e8102a" stroke-opacity="0.6" stroke-width="1.4" fill="none"><line x1="181.1" y1="636.0" x2="187.7" y2="636.0"/><line x1="181.1" y1="711.0" x2="187.7" y2="711.0"/></g>
<line x1="228.2" y1="641.3" x2="228.2" y2="716.4" stroke="#e8102a" stroke-opacity="0.32" stroke-width="1.1"/>
<g stroke="#e8102a" stroke-opacity="0.6" stroke-width="1.4" fill="none"><line x1="224.9" y1="641.3" x2="231.5" y2="641.3"/><line x1="224.9" y1="716.4" x2="231.5" y2="716.4"/></g>
<line x1="272.0" y1="641.3" x2="272.0" y2="716.4" stroke="#e8102a" stroke-opacity="0.32" stroke-width="1.1"/>
<g stroke="#e8102a" stroke-opacity="0.6" stroke-width="1.4" fill="none"><line x1="268.7" y1="641.3" x2="275.3" y2="641.3"/><line x1="268.7" y1="716.4" x2="275.3" y2="716.4"/></g>
<line x1="315.9" y1="641.3" x2="315.9" y2="716.4" stroke="#e8102a" stroke-opacity="0.32" stroke-width="1.1"/>
<g stroke="#e8102a" stroke-opacity="0.6" stroke-width="1.4" fill="none"><line x1="312.6" y1="641.3" x2="319.2" y2="641.3"/><line x1="312.6" y1="716.4" x2="319.2" y2="716.4"/></g>
<line x1="359.7" y1="662.6" x2="359.7" y2="737.6" stroke="#e8102a" stroke-opacity="0.32" stroke-width="1.1"/>
<g stroke="#e8102a" stroke-opacity="0.6" stroke-width="1.4" fill="none"><line x1="356.4" y1="662.6" x2="363.0" y2="662.6"/><line x1="356.4" y1="737.6" x2="363.0" y2="737.6"/></g>
<line x1="403.5" y1="620.7" x2="403.5" y2="732.3" stroke="#e8102a" stroke-opacity="0.32" stroke-width="1.1"/>
<g stroke="#e8102a" stroke-opacity="0.6" stroke-width="1.4" fill="none"><line x1="400.2" y1="620.7" x2="406.8" y2="620.7"/><line x1="400.2" y1="732.3" x2="406.8" y2="732.3"/></g>
<line x1="447.4" y1="636.0" x2="447.4" y2="711.0" stroke="#e8102a" stroke-opacity="0.32" stroke-width="1.1"/>
<g stroke="#e8102a" stroke-opacity="0.6" stroke-width="1.4" fill="none"><line x1="444.1" y1="636.0" x2="450.7" y2="636.0"/><line x1="444.1" y1="711.0" x2="450.7" y2="711.0"/></g>
<line x1="52.9" y1="562.6" x2="52.9" y2="717.4" stroke="#22dd22" stroke-opacity="0.32" stroke-width="1.1"/>
<g stroke="#22dd22" stroke-opacity="0.6" stroke-width="1.4" fill="none"><line x1="49.6" y1="562.6" x2="56.2" y2="562.6"/><line x1="49.6" y1="717.4" x2="56.2" y2="717.4"/></g>
<line x1="96.7" y1="562.6" x2="96.7" y2="717.4" stroke="#22dd22" stroke-opacity="0.32" stroke-width="1.1"/>
<g stroke="#22dd22" stroke-opacity="0.6" stroke-width="1.4" fill="none"><line x1="93.4" y1="562.6" x2="100.0" y2="562.6"/><line x1="93.4" y1="717.4" x2="100.0" y2="717.4"/></g>
<line x1="140.6" y1="568.6" x2="140.6" y2="690.1" stroke="#22dd22" stroke-opacity="0.32" stroke-width="1.1"/>
<g stroke="#22dd22" stroke-opacity="0.6" stroke-width="1.4" fill="none"><line x1="137.3" y1="568.6" x2="143.9" y2="568.6"/><line x1="137.3" y1="690.1" x2="143.9" y2="690.1"/></g>
<line x1="184.4" y1="568.6" x2="184.4" y2="690.1" stroke="#22dd22" stroke-opacity="0.32" stroke-width="1.1"/>
<g stroke="#22dd22" stroke-opacity="0.6" stroke-width="1.4" fill="none"><line x1="181.1" y1="568.6" x2="187.7" y2="568.6"/><line x1="181.1" y1="690.1" x2="187.7" y2="690.1"/></g>
<line x1="228.2" y1="582.6" x2="228.2" y2="704.7" stroke="#22dd22" stroke-opacity="0.32" stroke-width="1.1"/>
<g stroke="#22dd22" stroke-opacity="0.6" stroke-width="1.4" fill="none"><line x1="224.9" y1="582.6" x2="231.5" y2="582.6"/><line x1="224.9" y1="704.7" x2="231.5" y2="704.7"/></g>
<line x1="272.0" y1="582.6" x2="272.0" y2="704.7" stroke="#22dd22" stroke-opacity="0.32" stroke-width="1.1"/>
<g stroke="#22dd22" stroke-opacity="0.6" stroke-width="1.4" fill="none"><line x1="268.7" y1="582.6" x2="275.3" y2="582.6"/><line x1="268.7" y1="704.7" x2="275.3" y2="704.7"/></g>
<line x1="315.9" y1="582.6" x2="315.9" y2="720.0" stroke="#22dd22" stroke-opacity="0.32" stroke-width="1.1"/>
<g stroke="#22dd22" stroke-opacity="0.6" stroke-width="1.4" fill="none"><line x1="312.6" y1="582.6" x2="319.2" y2="582.6"/><line x1="312.6" y1="720.0" x2="319.2" y2="720.0"/></g>
<line x1="359.7" y1="602.2" x2="359.7" y2="724.3" stroke="#22dd22" stroke-opacity="0.32" stroke-width="1.1"/>
<g stroke="#22dd22" stroke-opacity="0.6" stroke-width="1.4" fill="none"><line x1="356.4" y1="602.2" x2="363.0" y2="602.2"/><line x1="356.4" y1="724.3" x2="363.0" y2="724.3"/></g>
<line x1="403.5" y1="562.6" x2="403.5" y2="717.4" stroke="#22dd22" stroke-opacity="0.32" stroke-width="1.1"/>
<g stroke="#22dd22" stroke-opacity="0.6" stroke-width="1.4" fill="none"><line x1="400.2" y1="562.6" x2="406.8" y2="562.6"/><line x1="400.2" y1="717.4" x2="406.8" y2="717.4"/></g>
<line x1="447.4" y1="567.6" x2="447.4" y2="691.8" stroke="#22dd22" stroke-opacity="0.32" stroke-width="1.1"/>
<g stroke="#22dd22" stroke-opacity="0.6" stroke-width="1.4" fill="none"><line x1="444.1" y1="567.6" x2="450.7" y2="567.6"/><line x1="444.1" y1="691.8" x2="450.7" y2="691.8"/></g>
<line x1="52.9" y1="651.3" x2="52.9" y2="750.9" stroke="#1414e0" stroke-opacity="0.32" stroke-width="1.1"/>
<g stroke="#1414e0" stroke-opacity="0.6" stroke-width="1.4" fill="none"><line x1="49.6" y1="651.3" x2="56.2" y2="651.3"/><line x1="49.6" y1="750.9" x2="56.2" y2="750.9"/></g>
<line x1="96.7" y1="651.3" x2="96.7" y2="750.9" stroke="#1414e0" stroke-opacity="0.32" stroke-width="1.1"/>
<g stroke="#1414e0" stroke-opacity="0.6" stroke-width="1.4" fill="none"><line x1="93.4" y1="651.3" x2="100.0" y2="651.3"/><line x1="93.4" y1="750.9" x2="100.0" y2="750.9"/></g>
<line x1="140.6" y1="651.3" x2="140.6" y2="750.9" stroke="#1414e0" stroke-opacity="0.32" stroke-width="1.1"/>
<g stroke="#1414e0" stroke-opacity="0.6" stroke-width="1.4" fill="none"><line x1="137.3" y1="651.3" x2="143.9" y2="651.3"/><line x1="137.3" y1="750.9" x2="143.9" y2="750.9"/></g>
<line x1="184.4" y1="651.3" x2="184.4" y2="750.9" stroke="#1414e0" stroke-opacity="0.32" stroke-width="1.1"/>
<g stroke="#1414e0" stroke-opacity="0.6" stroke-width="1.4" fill="none"><line x1="181.1" y1="651.3" x2="187.7" y2="651.3"/><line x1="181.1" y1="750.9" x2="187.7" y2="750.9"/></g>
<line x1="228.2" y1="651.3" x2="228.2" y2="750.9" stroke="#1414e0" stroke-opacity="0.32" stroke-width="1.1"/>
<g stroke="#1414e0" stroke-opacity="0.6" stroke-width="1.4" fill="none"><line x1="224.9" y1="651.3" x2="231.5" y2="651.3"/><line x1="224.9" y1="750.9" x2="231.5" y2="750.9"/></g>
<line x1="272.0" y1="651.3" x2="272.0" y2="750.9" stroke="#1414e0" stroke-opacity="0.32" stroke-width="1.1"/>
<g stroke="#1414e0" stroke-opacity="0.6" stroke-width="1.4" fill="none"><line x1="268.7" y1="651.3" x2="275.3" y2="651.3"/><line x1="268.7" y1="750.9" x2="275.3" y2="750.9"/></g>
<line x1="315.9" y1="651.3" x2="315.9" y2="750.9" stroke="#1414e0" stroke-opacity="0.32" stroke-width="1.1"/>
<g stroke="#1414e0" stroke-opacity="0.6" stroke-width="1.4" fill="none"><line x1="312.6" y1="651.3" x2="319.2" y2="651.3"/><line x1="312.6" y1="750.9" x2="319.2" y2="750.9"/></g>
<line x1="359.7" y1="657.9" x2="359.7" y2="757.5" stroke="#1414e0" stroke-opacity="0.32" stroke-width="1.1"/>
<g stroke="#1414e0" stroke-opacity="0.6" stroke-width="1.4" fill="none"><line x1="356.4" y1="657.9" x2="363.0" y2="657.9"/><line x1="356.4" y1="757.5" x2="363.0" y2="757.5"/></g>
<line x1="403.5" y1="651.3" x2="403.5" y2="750.9" stroke="#1414e0" stroke-opacity="0.32" stroke-width="1.1"/>
<g stroke="#1414e0" stroke-opacity="0.6" stroke-width="1.4" fill="none"><line x1="400.2" y1="651.3" x2="406.8" y2="651.3"/><line x1="400.2" y1="750.9" x2="406.8" y2="750.9"/></g>
<line x1="447.4" y1="648.3" x2="447.4" y2="747.9" stroke="#1414e0" stroke-opacity="0.32" stroke-width="1.1"/>
<g stroke="#1414e0" stroke-opacity="0.6" stroke-width="1.4" fill="none"><line x1="444.1" y1="648.3" x2="450.7" y2="648.3"/><line x1="444.1" y1="747.9" x2="450.7" y2="747.9"/></g>
<line x1="52.9" y1="666.9" x2="52.9" y2="750.6" stroke="#881088" stroke-opacity="0.32" stroke-width="1.1"/>
<g stroke="#881088" stroke-opacity="0.6" stroke-width="1.4" fill="none"><line x1="49.6" y1="666.9" x2="56.2" y2="666.9"/><line x1="49.6" y1="750.6" x2="56.2" y2="750.6"/></g>
<line x1="96.7" y1="666.9" x2="96.7" y2="750.6" stroke="#881088" stroke-opacity="0.32" stroke-width="1.1"/>
<g stroke="#881088" stroke-opacity="0.6" stroke-width="1.4" fill="none"><line x1="93.4" y1="666.9" x2="100.0" y2="666.9"/><line x1="93.4" y1="750.6" x2="100.0" y2="750.6"/></g>
<line x1="140.6" y1="659.3" x2="140.6" y2="742.9" stroke="#881088" stroke-opacity="0.32" stroke-width="1.1"/>
<g stroke="#881088" stroke-opacity="0.6" stroke-width="1.4" fill="none"><line x1="137.3" y1="659.3" x2="143.9" y2="659.3"/><line x1="137.3" y1="742.9" x2="143.9" y2="742.9"/></g>
<line x1="184.4" y1="659.3" x2="184.4" y2="742.9" stroke="#881088" stroke-opacity="0.32" stroke-width="1.1"/>
<g stroke="#881088" stroke-opacity="0.6" stroke-width="1.4" fill="none"><line x1="181.1" y1="659.3" x2="187.7" y2="659.3"/><line x1="181.1" y1="742.9" x2="187.7" y2="742.9"/></g>
<line x1="228.2" y1="671.2" x2="228.2" y2="754.9" stroke="#881088" stroke-opacity="0.32" stroke-width="1.1"/>
<g stroke="#881088" stroke-opacity="0.6" stroke-width="1.4" fill="none"><line x1="224.9" y1="671.2" x2="231.5" y2="671.2"/><line x1="224.9" y1="754.9" x2="231.5" y2="754.9"/></g>
<line x1="272.0" y1="671.2" x2="272.0" y2="754.9" stroke="#881088" stroke-opacity="0.32" stroke-width="1.1"/>
<g stroke="#881088" stroke-opacity="0.6" stroke-width="1.4" fill="none"><line x1="268.7" y1="671.2" x2="275.3" y2="671.2"/><line x1="268.7" y1="754.9" x2="275.3" y2="754.9"/></g>
<line x1="315.9" y1="671.2" x2="315.9" y2="754.9" stroke="#881088" stroke-opacity="0.32" stroke-width="1.1"/>
<g stroke="#881088" stroke-opacity="0.6" stroke-width="1.4" fill="none"><line x1="312.6" y1="671.2" x2="319.2" y2="671.2"/><line x1="312.6" y1="754.9" x2="319.2" y2="754.9"/></g>
<line x1="359.7" y1="670.9" x2="359.7" y2="754.5" stroke="#881088" stroke-opacity="0.32" stroke-width="1.1"/>
<g stroke="#881088" stroke-opacity="0.6" stroke-width="1.4" fill="none"><line x1="356.4" y1="670.9" x2="363.0" y2="670.9"/><line x1="356.4" y1="754.5" x2="363.0" y2="754.5"/></g>
<line x1="403.5" y1="659.3" x2="403.5" y2="742.9" stroke="#881088" stroke-opacity="0.32" stroke-width="1.1"/>
<g stroke="#881088" stroke-opacity="0.6" stroke-width="1.4" fill="none"><line x1="400.2" y1="659.3" x2="406.8" y2="659.3"/><line x1="400.2" y1="742.9" x2="406.8" y2="742.9"/></g>
<line x1="447.4" y1="667.2" x2="447.4" y2="750.9" stroke="#881088" stroke-opacity="0.32" stroke-width="1.1"/>
<g stroke="#881088" stroke-opacity="0.6" stroke-width="1.4" fill="none"><line x1="444.1" y1="667.2" x2="450.7" y2="667.2"/><line x1="444.1" y1="750.9" x2="450.7" y2="750.9"/></g>
<line x1="52.9" y1="711.4" x2="52.9" y2="757.9" stroke="#000000" stroke-opacity="0.32" stroke-width="1.1"/>
<g stroke="#000000" stroke-opacity="0.6" stroke-width="1.4" fill="none"><line x1="49.6" y1="711.4" x2="56.2" y2="711.4"/><line x1="49.6" y1="757.9" x2="56.2" y2="757.9"/></g>
<line x1="96.7" y1="711.4" x2="96.7" y2="757.9" stroke="#000000" stroke-opacity="0.32" stroke-width="1.1"/>
<g stroke="#000000" stroke-opacity="0.6" stroke-width="1.4" fill="none"><line x1="93.4" y1="711.4" x2="100.0" y2="711.4"/><line x1="93.4" y1="757.9" x2="100.0" y2="757.9"/></g>
<line x1="140.6" y1="700.4" x2="140.6" y2="746.9" stroke="#000000" stroke-opacity="0.32" stroke-width="1.1"/>
<g stroke="#000000" stroke-opacity="0.6" stroke-width="1.4" fill="none"><line x1="137.3" y1="700.4" x2="143.9" y2="700.4"/><line x1="137.3" y1="746.9" x2="143.9" y2="746.9"/></g>
<line x1="184.4" y1="700.4" x2="184.4" y2="746.9" stroke="#000000" stroke-opacity="0.32" stroke-width="1.1"/>
<g stroke="#000000" stroke-opacity="0.6" stroke-width="1.4" fill="none"><line x1="181.1" y1="700.4" x2="187.7" y2="700.4"/><line x1="181.1" y1="746.9" x2="187.7" y2="746.9"/></g>
<line x1="228.2" y1="692.5" x2="228.2" y2="738.9" stroke="#000000" stroke-opacity="0.32" stroke-width="1.1"/>
<g stroke="#000000" stroke-opacity="0.6" stroke-width="1.4" fill="none"><line x1="224.9" y1="692.5" x2="231.5" y2="692.5"/><line x1="224.9" y1="738.9" x2="231.5" y2="738.9"/></g>
<line x1="272.0" y1="711.4" x2="272.0" y2="757.9" stroke="#000000" stroke-opacity="0.32" stroke-width="1.1"/>
<g stroke="#000000" stroke-opacity="0.6" stroke-width="1.4" fill="none"><line x1="268.7" y1="711.4" x2="275.3" y2="711.4"/><line x1="268.7" y1="757.9" x2="275.3" y2="757.9"/></g>
<line x1="315.9" y1="711.4" x2="315.9" y2="757.9" stroke="#000000" stroke-opacity="0.32" stroke-width="1.1"/>
<g stroke="#000000" stroke-opacity="0.6" stroke-width="1.4" fill="none"><line x1="312.6" y1="711.4" x2="319.2" y2="711.4"/><line x1="312.6" y1="757.9" x2="319.2" y2="757.9"/></g>
<line x1="359.7" y1="711.7" x2="359.7" y2="758.2" stroke="#000000" stroke-opacity="0.32" stroke-width="1.1"/>
<g stroke="#000000" stroke-opacity="0.6" stroke-width="1.4" fill="none"><line x1="356.4" y1="711.7" x2="363.0" y2="711.7"/><line x1="356.4" y1="758.2" x2="363.0" y2="758.2"/></g>
<line x1="403.5" y1="694.1" x2="403.5" y2="753.9" stroke="#000000" stroke-opacity="0.32" stroke-width="1.1"/>
<g stroke="#000000" stroke-opacity="0.6" stroke-width="1.4" fill="none"><line x1="400.2" y1="694.1" x2="406.8" y2="694.1"/><line x1="400.2" y1="753.9" x2="406.8" y2="753.9"/></g>
<line x1="447.4" y1="694.8" x2="447.4" y2="761.2" stroke="#000000" stroke-opacity="0.32" stroke-width="1.1"/>
<g stroke="#000000" stroke-opacity="0.6" stroke-width="1.4" fill="none"><line x1="444.1" y1="694.8" x2="450.7" y2="694.8"/><line x1="444.1" y1="761.2" x2="450.7" y2="761.2"/></g>
<line x1="52.9" y1="582.9" x2="52.9" y2="697.1" stroke="#777777" stroke-opacity="0.42" stroke-width="1.1"/>
<g stroke="#777777" stroke-opacity="0.6" stroke-width="1.4" fill="none"><line x1="49.6" y1="582.9" x2="56.2" y2="582.9"/><line x1="49.6" y1="697.1" x2="56.2" y2="697.1"/></g>
<line x1="96.7" y1="582.9" x2="96.7" y2="697.1" stroke="#777777" stroke-opacity="0.42" stroke-width="1.1"/>
<g stroke="#777777" stroke-opacity="0.6" stroke-width="1.4" fill="none"><line x1="93.4" y1="582.9" x2="100.0" y2="582.9"/><line x1="93.4" y1="697.1" x2="100.0" y2="697.1"/></g>
<line x1="140.6" y1="582.9" x2="140.6" y2="697.1" stroke="#777777" stroke-opacity="0.42" stroke-width="1.1"/>
<g stroke="#777777" stroke-opacity="0.6" stroke-width="1.4" fill="none"><line x1="137.3" y1="582.9" x2="143.9" y2="582.9"/><line x1="137.3" y1="697.1" x2="143.9" y2="697.1"/></g>
<line x1="184.4" y1="582.9" x2="184.4" y2="697.1" stroke="#777777" stroke-opacity="0.42" stroke-width="1.1"/>
<g stroke="#777777" stroke-opacity="0.6" stroke-width="1.4" fill="none"><line x1="181.1" y1="582.9" x2="187.7" y2="582.9"/><line x1="181.1" y1="697.1" x2="187.7" y2="697.1"/></g>
<line x1="228.2" y1="582.9" x2="228.2" y2="697.1" stroke="#777777" stroke-opacity="0.42" stroke-width="1.1"/>
<g stroke="#777777" stroke-opacity="0.6" stroke-width="1.4" fill="none"><line x1="224.9" y1="582.9" x2="231.5" y2="582.9"/><line x1="224.9" y1="697.1" x2="231.5" y2="697.1"/></g>
<line x1="272.0" y1="582.9" x2="272.0" y2="697.1" stroke="#777777" stroke-opacity="0.42" stroke-width="1.1"/>
<g stroke="#777777" stroke-opacity="0.6" stroke-width="1.4" fill="none"><line x1="268.7" y1="582.9" x2="275.3" y2="582.9"/><line x1="268.7" y1="697.1" x2="275.3" y2="697.1"/></g>
<line x1="315.9" y1="582.9" x2="315.9" y2="697.1" stroke="#777777" stroke-opacity="0.42" stroke-width="1.1"/>
<g stroke="#777777" stroke-opacity="0.6" stroke-width="1.4" fill="none"><line x1="312.6" y1="582.9" x2="319.2" y2="582.9"/><line x1="312.6" y1="697.1" x2="319.2" y2="697.1"/></g>
<line x1="359.7" y1="582.9" x2="359.7" y2="697.1" stroke="#777777" stroke-opacity="0.42" stroke-width="1.1"/>
<g stroke="#777777" stroke-opacity="0.6" stroke-width="1.4" fill="none"><line x1="356.4" y1="582.9" x2="363.0" y2="582.9"/><line x1="356.4" y1="697.1" x2="363.0" y2="697.1"/></g>
<line x1="403.5" y1="582.9" x2="403.5" y2="697.1" stroke="#777777" stroke-opacity="0.42" stroke-width="1.1"/>
<g stroke="#777777" stroke-opacity="0.6" stroke-width="1.4" fill="none"><line x1="400.2" y1="582.9" x2="406.8" y2="582.9"/><line x1="400.2" y1="697.1" x2="406.8" y2="697.1"/></g>
<line x1="447.4" y1="585.6" x2="447.4" y2="673.9" stroke="#777777" stroke-opacity="0.42" stroke-width="1.1"/>
<g stroke="#777777" stroke-opacity="0.6" stroke-width="1.4" fill="none"><line x1="444.1" y1="585.6" x2="450.7" y2="585.6"/><line x1="444.1" y1="673.9" x2="450.7" y2="673.9"/></g>
<polyline points="52.9,678.5 96.7,670.9 140.6,667.9 184.4,661.6 228.2,678.8 272.0,678.8 315.9,678.8 359.7,700.1 403.5,671.5 447.4,695.1" fill="none" stroke="#f07ef2" stroke-width="2.2" stroke-linejoin="round"/>
<polygon points="52.9,673.8 47.9,682.0 57.9,682.0" fill="#f07ef2"/>
<polygon points="96.7,666.1 91.7,674.3 101.7,674.3" fill="#f07ef2"/>
<polygon points="140.6,663.1 135.6,671.3 145.6,671.3" fill="#f07ef2"/>
<polygon points="184.4,656.8 179.4,665.0 189.4,665.0" fill="#f07ef2"/>
<polygon points="228.2,674.1 223.2,682.3 233.2,682.3" fill="#f07ef2"/>
<polygon points="272.0,674.1 267.0,682.3 277.0,682.3" fill="#f07ef2"/>
<polygon points="315.9,674.1 310.9,682.3 320.9,682.3" fill="#f07ef2"/>
<polygon points="359.7,695.3 354.7,703.5 364.7,703.5" fill="#f07ef2"/>
<polygon points="403.5,666.8 398.5,675.0 408.5,675.0" fill="#f07ef2"/>
<polygon points="447.4,690.4 442.4,698.6 452.4,698.6" fill="#f07ef2"/>
<polyline points="52.9,640.0 96.7,640.0 140.6,629.4 184.4,629.4 228.2,643.7 272.0,643.7 315.9,651.3 359.7,663.2 403.5,640.0 447.4,629.7" fill="none" stroke="#22dd22" stroke-width="2.6" stroke-linejoin="round"/>
<rect x="49.1" y="636.2" width="7.5" height="7.5" fill="#22dd22"/>
<rect x="93.0" y="636.2" width="7.5" height="7.5" fill="#22dd22"/>
<rect x="136.8" y="625.6" width="7.5" height="7.5" fill="#22dd22"/>
<rect x="180.6" y="625.6" width="7.5" height="7.5" fill="#22dd22"/>
<rect x="224.5" y="639.9" width="7.5" height="7.5" fill="#22dd22"/>
<rect x="268.3" y="639.9" width="7.5" height="7.5" fill="#22dd22"/>
<rect x="312.1" y="647.5" width="7.5" height="7.5" fill="#22dd22"/>
<rect x="356.0" y="659.5" width="7.5" height="7.5" fill="#22dd22"/>
<rect x="399.8" y="636.2" width="7.5" height="7.5" fill="#22dd22"/>
<rect x="443.6" y="626.0" width="7.5" height="7.5" fill="#22dd22"/>
<polyline points="52.9,701.1 96.7,701.1 140.6,701.1 184.4,701.1 228.2,701.1 272.0,701.1 315.9,701.1 359.7,707.7 403.5,701.1 447.4,698.1" fill="none" stroke="#1414e0" stroke-width="2.2" stroke-linejoin="round"/>
<rect x="49.1" y="697.3" width="7.5" height="7.5" fill="#1414e0"/>
<rect x="93.0" y="697.3" width="7.5" height="7.5" fill="#1414e0"/>
<rect x="136.8" y="697.3" width="7.5" height="7.5" fill="#1414e0"/>
<rect x="180.6" y="697.3" width="7.5" height="7.5" fill="#1414e0"/>
<rect x="224.5" y="697.3" width="7.5" height="7.5" fill="#1414e0"/>
<rect x="268.3" y="697.3" width="7.5" height="7.5" fill="#1414e0"/>
<rect x="312.1" y="697.3" width="7.5" height="7.5" fill="#1414e0"/>
<rect x="356.0" y="704.0" width="7.5" height="7.5" fill="#1414e0"/>
<rect x="399.8" y="697.3" width="7.5" height="7.5" fill="#1414e0"/>
<rect x="443.6" y="694.3" width="7.5" height="7.5" fill="#1414e0"/>
<polyline points="52.9,708.7 96.7,708.7 140.6,701.1 184.4,701.1 228.2,713.0 272.0,713.0 315.9,713.0 359.7,712.7 403.5,701.1 447.4,709.1" fill="none" stroke="#881088" stroke-width="2.2" stroke-linejoin="round"/>
<rect x="49.1" y="705.0" width="7.5" height="7.5" fill="#881088"/>
<rect x="93.0" y="705.0" width="7.5" height="7.5" fill="#881088"/>
<rect x="136.8" y="697.3" width="7.5" height="7.5" fill="#881088"/>
<rect x="180.6" y="697.3" width="7.5" height="7.5" fill="#881088"/>
<rect x="224.5" y="709.3" width="7.5" height="7.5" fill="#881088"/>
<rect x="268.3" y="709.3" width="7.5" height="7.5" fill="#881088"/>
<rect x="312.1" y="709.3" width="7.5" height="7.5" fill="#881088"/>
<rect x="356.0" y="709.0" width="7.5" height="7.5" fill="#881088"/>
<rect x="399.8" y="697.3" width="7.5" height="7.5" fill="#881088"/>
<rect x="443.6" y="705.3" width="7.5" height="7.5" fill="#881088"/>
<polyline points="52.9,678.5 96.7,678.5 140.6,673.5 184.4,673.5 228.2,678.8 272.0,678.8 315.9,678.8 359.7,700.1 403.5,676.5 447.4,673.5" fill="none" stroke="#e8102a" stroke-width="2.2" stroke-linejoin="round"/>
<polygon points="52.9,673.8 47.9,682.0 57.9,682.0" fill="#e8102a"/>
<polygon points="96.7,673.8 91.7,682.0 101.7,682.0" fill="#e8102a"/>
<polygon points="140.6,668.8 135.6,677.0 145.6,677.0" fill="#e8102a"/>
<polygon points="184.4,668.8 179.4,677.0 189.4,677.0" fill="#e8102a"/>
<polygon points="228.2,674.1 223.2,682.3 233.2,682.3" fill="#e8102a"/>
<polygon points="272.0,674.1 267.0,682.3 277.0,682.3" fill="#e8102a"/>
<polygon points="315.9,674.1 310.9,682.3 320.9,682.3" fill="#e8102a"/>
<polygon points="359.7,695.3 354.7,703.5 364.7,703.5" fill="#e8102a"/>
<polygon points="403.5,671.8 398.5,680.0 408.5,680.0" fill="#e8102a"/>
<polygon points="447.4,668.8 442.4,677.0 452.4,677.0" fill="#e8102a"/>
<polyline points="52.9,640.0 96.7,640.0 140.6,640.0 184.4,640.0 228.2,640.0 272.0,640.0 315.9,640.0 359.7,640.0 403.5,640.0 447.4,629.7" fill="none" stroke="#777777" stroke-width="2.0" stroke-linejoin="round"/>
<polygon points="52.9,645.3 48.3,637.2 57.5,637.2" fill="#8c8c8c" stroke="#646464" stroke-width="1"/>
<polygon points="96.7,645.3 92.1,637.2 101.3,637.2" fill="#8c8c8c" stroke="#646464" stroke-width="1"/>
<polygon points="140.6,645.3 136.0,637.2 145.2,637.2" fill="#8c8c8c" stroke="#646464" stroke-width="1"/>
<polygon points="184.4,645.3 179.8,637.2 189.0,637.2" fill="#8c8c8c" stroke="#646464" stroke-width="1"/>
<polygon points="228.2,645.3 223.6,637.2 232.8,637.2" fill="#8c8c8c" stroke="#646464" stroke-width="1"/>
<polygon points="272.0,645.3 267.4,637.2 276.6,637.2" fill="#8c8c8c" stroke="#646464" stroke-width="1"/>
<polygon points="315.9,645.3 311.3,637.2 320.5,637.2" fill="#8c8c8c" stroke="#646464" stroke-width="1"/>
<polygon points="359.7,645.3 355.1,637.2 364.3,637.2" fill="#8c8c8c" stroke="#646464" stroke-width="1"/>
<polygon points="403.5,645.3 398.9,637.2 408.1,637.2" fill="#8c8c8c" stroke="#646464" stroke-width="1"/>
<polygon points="447.4,635.0 442.8,626.9 452.0,626.9" fill="#8c8c8c" stroke="#646464" stroke-width="1"/>
<polyline points="52.9,734.6 96.7,734.6 140.6,723.7 184.4,723.7 228.2,715.7 272.0,734.6 315.9,734.6 359.7,735.0 403.5,724.0 447.4,728.0" fill="none" stroke="#000000" stroke-width="2.2" stroke-linejoin="round"/>
<polygon points="52.9,739.9 48.3,731.8 57.5,731.8" fill="#000000"/>
<polygon points="96.7,739.9 92.1,731.8 101.3,731.8" fill="#000000"/>
<polygon points="140.6,729.0 136.0,720.9 145.2,720.9" fill="#000000"/>
<polygon points="184.4,729.0 179.8,720.9 189.0,720.9" fill="#000000"/>
<polygon points="228.2,721.0 223.6,712.9 232.8,712.9" fill="#000000"/>
<polygon points="272.0,739.9 267.4,731.8 276.6,731.8" fill="#000000"/>
<polygon points="315.9,739.9 311.3,731.8 320.5,731.8" fill="#000000"/>
<polygon points="359.7,740.3 355.1,732.2 364.3,732.2" fill="#000000"/>
<polygon points="403.5,729.3 398.9,721.2 408.1,721.2" fill="#000000"/>
<polygon points="447.4,733.3 442.8,725.2 452.0,725.2" fill="#000000"/>
<line x1="44.3" y1="440.8" x2="44.3" y2="773.8" stroke="#111" stroke-width="2.2"/>
<line x1="36.8" y1="772.8" x2="457.0" y2="772.8" stroke="#111" stroke-width="2.2"/>
<line x1="36.8" y1="772.8" x2="44.3" y2="772.8" stroke="#111" stroke-width="2"/>
<text x="31.8" y="776.8" text-anchor="end" font-size="12.4" font-weight="bold">0</text>
<line x1="36.8" y1="739.6" x2="44.3" y2="739.6" stroke="#111" stroke-width="2"/>
<text x="31.8" y="743.5" text-anchor="end" font-size="12.4" font-weight="bold">1</text>
<line x1="36.8" y1="706.4" x2="44.3" y2="706.4" stroke="#111" stroke-width="2"/>
<text x="31.8" y="710.4" text-anchor="end" font-size="12.4" font-weight="bold">2</text>
<line x1="36.8" y1="673.2" x2="44.3" y2="673.2" stroke="#111" stroke-width="2"/>
<text x="31.8" y="677.1" text-anchor="end" font-size="12.4" font-weight="bold">3</text>
<line x1="36.8" y1="640.0" x2="44.3" y2="640.0" stroke="#111" stroke-width="2"/>
<text x="31.8" y="644.0" text-anchor="end" font-size="12.4" font-weight="bold">4</text>
<line x1="36.8" y1="606.8" x2="44.3" y2="606.8" stroke="#111" stroke-width="2"/>
<text x="31.8" y="610.8" text-anchor="end" font-size="12.4" font-weight="bold">5</text>
<line x1="36.8" y1="573.6" x2="44.3" y2="573.6" stroke="#111" stroke-width="2"/>
<text x="31.8" y="577.5" text-anchor="end" font-size="12.4" font-weight="bold">6</text>
<line x1="36.8" y1="540.4" x2="44.3" y2="540.4" stroke="#111" stroke-width="2"/>
<text x="31.8" y="544.4" text-anchor="end" font-size="12.4" font-weight="bold">7</text>
<line x1="36.8" y1="507.2" x2="44.3" y2="507.2" stroke="#111" stroke-width="2"/>
<text x="31.8" y="511.1" text-anchor="end" font-size="12.4" font-weight="bold">8</text>
<line x1="36.8" y1="474.0" x2="44.3" y2="474.0" stroke="#111" stroke-width="2"/>
<text x="31.8" y="477.9" text-anchor="end" font-size="12.4" font-weight="bold">9</text>
<line x1="36.8" y1="440.8" x2="44.3" y2="440.8" stroke="#111" stroke-width="2"/>
<text x="31.8" y="444.8" text-anchor="end" font-size="12.4" font-weight="bold">10</text>
<line x1="52.9" y1="772.8" x2="52.9" y2="779.8" stroke="#111" stroke-width="2"/>
<text x="52.9" y="795.2" text-anchor="middle" font-size="12.2" font-weight="bold">6222N</text>
<line x1="96.7" y1="772.8" x2="96.7" y2="779.8" stroke="#111" stroke-width="2"/>
<text x="96.7" y="795.2" text-anchor="middle" font-size="12.2" font-weight="bold">6266.1G</text>
<line x1="140.6" y1="772.8" x2="140.6" y2="779.8" stroke="#111" stroke-width="2"/>
<text x="140.6" y="795.2" text-anchor="middle" font-size="12.2" font-weight="bold">6219G</text>
<line x1="184.4" y1="772.8" x2="184.4" y2="779.8" stroke="#111" stroke-width="2"/>
<text x="184.4" y="795.2" text-anchor="middle" font-size="12.2" font-weight="bold">6247W</text>
<line x1="228.2" y1="772.8" x2="228.2" y2="779.8" stroke="#111" stroke-width="2"/>
<text x="228.2" y="795.2" text-anchor="middle" font-size="12.2" font-weight="bold">6319W</text>
<line x1="272.0" y1="772.8" x2="272.0" y2="779.8" stroke="#111" stroke-width="2"/>
<text x="272.0" y="795.2" text-anchor="middle" font-size="12.2" font-weight="bold">6210W</text>
<line x1="315.9" y1="772.8" x2="315.9" y2="779.8" stroke="#111" stroke-width="2"/>
<text x="315.9" y="795.2" text-anchor="middle" font-size="12.2" font-weight="bold">6328A</text>
<line x1="359.7" y1="772.8" x2="359.7" y2="779.8" stroke="#111" stroke-width="2"/>
<text x="359.7" y="795.2" text-anchor="middle" font-size="12.2" font-weight="bold">6356N</text>
<line x1="403.5" y1="772.8" x2="403.5" y2="779.8" stroke="#111" stroke-width="2"/>
<text x="403.5" y="795.2" text-anchor="middle" font-size="12.2" font-weight="bold">6419W</text>
<line x1="447.4" y1="772.8" x2="447.4" y2="779.8" stroke="#111" stroke-width="2"/>
<text x="447.4" y="795.2" text-anchor="middle" font-size="12.2" font-weight="bold">6430W</text>
<text x="250.2" y="813" text-anchor="middle" font-size="14" font-weight="bold"><tspan font-style="italic">S.aureus</tspan> strains</text>
<text transform="translate(18.1,617) rotate(-90)" text-anchor="middle" font-size="14.6" font-weight="bold">MICs</text>
<text x="13.0" y="425.2" font-size="17.2" font-weight="bold">(b)</text>
<line x1="200.4" y1="442.5" x2="238.0" y2="442.5" stroke="#f07ef2" stroke-width="2.2"/>
<polygon points="219.2,437.7 214.2,445.9 224.2,445.9" fill="#f07ef2"/>
<text x="241.2" y="448.2" font-size="12.8" font-weight="bold">AgOAc</text>
<line x1="200.4" y1="462.7" x2="238.0" y2="462.7" stroke="#e8102a" stroke-width="2.2"/>
<polygon points="219.2,457.9 214.2,466.1 224.2,466.1" fill="#e8102a"/>
<text x="241.2" y="468.4" font-size="12.8" font-weight="bold">AgOAc-3b</text>
<line x1="200.4" y1="482.9" x2="238.0" y2="482.9" stroke="#22dd22" stroke-width="2.2"/>
<rect x="215.4" y="479.1" width="7.5" height="7.5" fill="#22dd22"/>
<text x="241.2" y="488.6" font-size="12.8" font-weight="bold">SCC22</text>
<line x1="200.4" y1="503.1" x2="238.0" y2="503.1" stroke="#1414e0" stroke-width="2.2"/>
<rect x="215.4" y="499.4" width="7.5" height="7.5" fill="#1414e0"/>
<text x="241.2" y="508.8" font-size="12.8" font-weight="bold">SCC22-3a</text>
<line x1="200.4" y1="523.3" x2="238.0" y2="523.3" stroke="#881088" stroke-width="2.2"/>
<rect x="215.4" y="519.5" width="7.5" height="7.5" fill="#881088"/>
<text x="241.2" y="529.0" font-size="12.8" font-weight="bold">SCC22-3b</text>
<line x1="200.4" y1="543.5" x2="238.0" y2="543.5" stroke="#777777" stroke-width="2.2"/>
<polygon points="219.2,548.8 214.6,540.7 223.8,540.7" fill="#8c8c8c" stroke="#646464" stroke-width="1"/>
<text x="241.2" y="549.2" font-size="12.8" font-weight="bold">SCC10</text>
<line x1="200.4" y1="563.7" x2="238.0" y2="563.7" stroke="#000000" stroke-width="2.2"/>
<polygon points="219.2,569.0 214.6,560.9 223.8,560.9" fill="#000000"/>
<text x="241.2" y="569.4" font-size="12.8" font-weight="bold">SCC10-3b</text>
</svg>
</body></html>
